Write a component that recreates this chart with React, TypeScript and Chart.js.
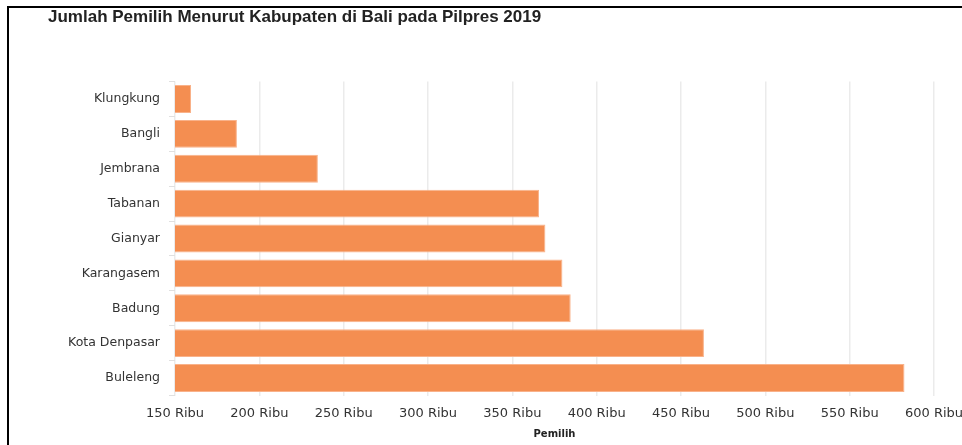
import React, { useEffect, useRef } from "react";
import { Chart, registerables } from "chart.js";

Chart.register(...registerables);

const TITLE = "Jumlah Pemilih Menurut Kabupaten di Bali pada Pilpres 2019";
const AXIS_TITLE = "Pemilih";
const categories = [
  "Klungkung",
  "Bangli",
  "Jembrana",
  "Tabanan",
  "Gianyar",
  "Karangasem",
  "Badung",
  "Kota Denpasar",
  "Buleleng",
];
const voters = [159500, 186700, 234700, 365800, 369600, 379700, 384600, 463600, 582500];
const xMin = 150000;
const xMax = 600000;
const xStep = 50000;
const tickSuffix = " Ribu";

const W = 962;
const H = 445;

export default function App() {
  const ref = useRef<HTMLCanvasElement | null>(null);

  useEffect(() => {
    if (!ref.current) return;
    const chart = new Chart(ref.current, {
      type: "bar",
      data: {
        labels: categories,
        datasets: [
          {
            label: AXIS_TITLE,
            data: voters,
            backgroundColor: "#f48e51",
            borderColor: "#f9b28a",
            borderWidth: 1,
            barPercentage: 0.8,
            categoryPercentage: 1,
          },
        ],
      },
      options: {
        indexAxis: "y",
        responsive: false,
        animation: false,
        layout: { padding: { left: 48, right: 28, top: 0, bottom: 0 } },
        plugins: {
          legend: { display: false },
          tooltip: { enabled: false },
          title: {
            display: true,
            text: TITLE,
            align: "start",
            color: "#222",
            font: { family: "'Liberation Sans', Arial, sans-serif", size: 17, weight: "bold" },
            padding: { top: 7.5, bottom: 53.6 },
          },
        },
        scales: {
          x: {
            type: "linear",
            min: xMin,
            max: xMax,
            afterFit: (s: any) => {
              s.height = 49.5;
              s.paddingLeft = 0;
              s.paddingRight = 0;
            },
            ticks: {
              stepSize: xStep,
              color: "#333",
              padding: 10,
              maxRotation: 0,
              autoSkip: false,
              font: { family: "'DejaVu Sans', Verdana, sans-serif", size: 13 },
              callback: (v: any) => Number(v) / 1000 + tickSuffix,
            },
            grid: { color: "#ebebeb", lineWidth: 1.5, drawTicks: false },
            border: { display: false },
            title: {
              display: true,
              text: AXIS_TITLE,
              color: "#222",
              font: { family: "'DejaVu Sans', Verdana, sans-serif", size: 10, weight: "bold" },
              padding: { top: 0, bottom: 5 },
            },
          },
          y: {
            type: "category",
            offset: true,
            afterFit: (s: any) => {
              s.width = 127;
            },
            ticks: {
              color: "#333",
              padding: 9,
              font: { family: "'DejaVu Sans', Verdana, sans-serif", size: 12.5 },
            },
            grid: { drawOnChartArea: false, drawTicks: true, tickLength: 6, color: "#e0e0e0" },
            border: { display: false },
          },
        },
      },
    });
    return () => chart.destroy();
  }, []);

  return (
    <div style={{ position: "fixed", left: 0, top: 0, width: W, height: H, overflow: "hidden", background: "#fff" }}>
      <canvas ref={ref} width={W} height={H} style={{ position: "absolute", left: 0, top: 0, width: W, height: H }} />
      <div
        style={{
          position: "absolute",
          left: 7,
          top: 6,
          width: W - 7,
          height: H - 6,
          boxSizing: "border-box",
          borderTop: "2px solid #000",
          borderLeft: "2px solid #000",
          pointerEvents: "none",
        }}
      />
    </div>
  );
}
